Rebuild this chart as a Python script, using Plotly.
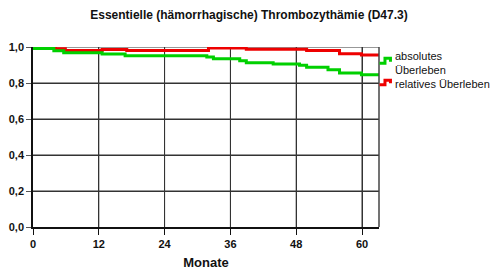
import plotly.graph_objects as go

# Data (months, survival proportion)
abs_t = [0, 3.8, 5.6, 12.6, 16.8, 31.7, 32.9, 37.7, 38.9, 43.8, 48.6, 49.9, 53.8, 55.9, 59.9, 63.1]
abs_v = [0.992, 0.979, 0.968, 0.961, 0.952, 0.944, 0.935, 0.924, 0.913, 0.906, 0.898, 0.887, 0.874, 0.856, 0.846, 0.846]
rel_t = [0, 4.1, 5.9, 12.6, 17.1, 32.0, 38.9, 49.9, 55.9, 59.9, 63.1]
rel_v = [0.993, 0.990, 0.981, 0.986, 0.981, 0.994, 0.988, 0.981, 0.962, 0.956, 0.956]

x_ticks = [0, 12, 24, 36, 48, 60]
y_ticks = [0, 0.2, 0.4, 0.6, 0.8, 1.0]
y_ticklabels = ["0,0", "0,2", "0,4", "0,6", "0,8", "1,0"]

title = "Essentielle (hämorrhagische) Thrombozythämie (D47.3)"
x_title = "Monate"
legend_abs = "absolutes<br>Überleben"
legend_rel = "relatives Überleben"

GREEN = "#00d000"
RED = "#ee0000"
GRID = "#333333"
FONT = "Liberation Sans, Arial, sans-serif"

W, H = 493, 271
ML, MR, MT, MB = 32.5, 113.5, 47.3, 44
PW, PH = W - ML - MR, H - MT - MB
X_MAX = 63.1

def px(x):
    return (x - ML) / PW

def py(y):
    return (H - MB - y) / PH

fig = go.Figure()
fig.add_trace(go.Scatter(x=rel_t, y=rel_v, mode="lines", line=dict(color=RED, width=3, shape="hv"),
                         showlegend=False, hoverinfo="skip"))
fig.add_trace(go.Scatter(x=abs_t, y=abs_v, mode="lines", line=dict(color=GREEN, width=3, shape="hv"),
                         showlegend=False, hoverinfo="skip"))

shapes = []
# grid lines following the tick lists (drawn beneath the curves)
for xv in x_ticks[1:]:
    shapes.append(dict(type="line", xref="x", yref="y", x0=xv, x1=xv, y0=0, y1=1, layer="below",
                       line=dict(color=GRID, width=1)))
for yv in y_ticks[1:]:
    shapes.append(dict(type="line", xref="x", yref="y", x0=0, x1=X_MAX, y0=yv, y1=yv, layer="below",
                       line=dict(color=GRID, width=1.2)))
# right frame
shapes.append(dict(type="line", xref="paper", yref="paper", x0=1, x1=1, y0=0, y1=1,
                   line=dict(color="#444", width=1.5)))
# legend step symbols
def step_path(y_low, y_high):
    return (f"M {px(380)} {py(y_low)} L {px(385.5)} {py(y_low)} L {px(385.5)} {py(y_high)} "
            f"L {px(391)} {py(y_high)} L {px(391)} {py(y_low - 1.5)}")
shapes.append(dict(type="path", xref="paper", yref="paper", path=step_path(63.5, 58.5),
                   line=dict(color=GREEN, width=3)))
shapes.append(dict(type="path", xref="paper", yref="paper", path=step_path(85, 80.5),
                   line=dict(color=RED, width=3)))

annotations = [
    dict(text=legend_abs, xref="paper", yref="paper", x=px(394), y=py(63), xanchor="left", yanchor="middle",
         showarrow=False, align="left", font=dict(family=FONT, size=11, color="#111")),
    dict(text=legend_rel, xref="paper", yref="paper", x=px(394), y=py(84), xanchor="left", yanchor="middle",
         showarrow=False, align="left", font=dict(family=FONT, size=11, color="#111")),
]

fig.update_layout(
    template="none",
    width=W, height=H,
    margin=dict(l=ML, r=MR, t=MT, b=MB, pad=0, autoexpand=False),
    paper_bgcolor="white", plot_bgcolor="rgba(0,0,0,0)",
    title=dict(text=title, x=0.505, xanchor="center", y=1 - 15 / H, yanchor="middle",
               font=dict(family=FONT, size=12, color="#111", weight="bold")),
    shapes=shapes, annotations=annotations,
    showlegend=False,
)
fig.update_xaxes(
    range=[0, X_MAX], tickvals=x_ticks, ticktext=[str(v) for v in x_ticks],
    showgrid=True, gridcolor=GRID, gridwidth=1, zeroline=False, automargin=False,
    showline=True, linecolor="#111", linewidth=2,
    ticks="outside", ticklen=6, tickcolor="#111", tickwidth=1,
    tickfont=dict(family=FONT, size=11, color="#111", weight="bold"),
    title=dict(text=x_title, font=dict(family=FONT, size=13, color="#111", weight="bold"), standoff=9),
)
fig.update_yaxes(
    range=[0, 1], tickvals=y_ticks, ticktext=y_ticklabels,
    showgrid=True, gridcolor=GRID, gridwidth=1, zeroline=False, automargin=False,
    showline=True, linecolor="#111", linewidth=1.5,
    ticks="outside", ticklen=5, tickcolor="#555", tickwidth=1,
    tickfont=dict(family=FONT, size=11, color="#111", weight="bold"),
)

fig.write_html("out.html", config={"displayModeBar": False},
               post_script="document.body.style.margin='0';")
